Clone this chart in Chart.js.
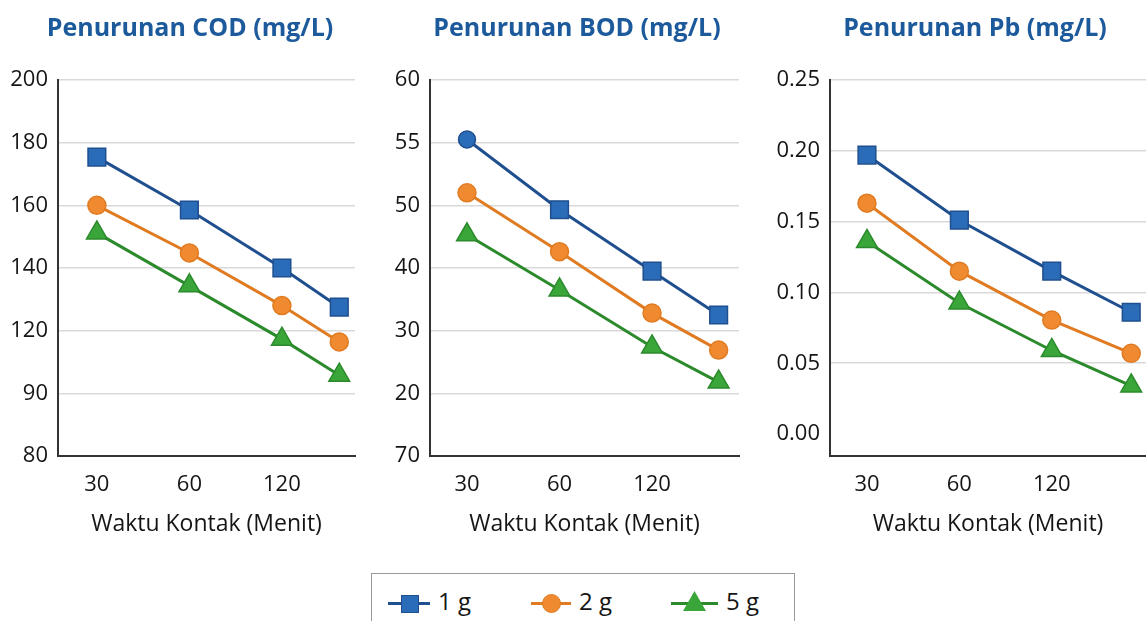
<!DOCTYPE html>
<html>
<head>
<meta charset="utf-8">
<script src="https://cdn.jsdelivr.net/npm/chart.js@4.4.1/dist/chart.umd.min.js"></script>
<style>
  body { margin: 0; background: #fff; width: 1146px; height: 621px; overflow: hidden; position: relative; font-family: 'Open Sans', sans-serif; }
  .panel { position: absolute; top: 0; height: 550px; }
  #legend { position: absolute; left: 371px; top: 573px; width: 424px; height: 60px; border: 1px solid #999; box-sizing: border-box; }
  .item { position: absolute; top: 0; height: 50px; }
  .ln { position: absolute; top: 28px; height: 3px; width: 44px; left: 0; }
  .mk { position: absolute; }
  .txt { position: absolute; top: 10px; font-size: 24px; color: #151515; white-space: nowrap; }
</style>
</head>
<body>
<div class="panel" style="left:0;width:380px"><canvas id="cod"></canvas></div>
<div class="panel" style="left:390px;width:374px"><canvas id="bod"></canvas></div>
<div class="panel" style="left:770px;width:410px"><canvas id="pb"></canvas></div>
<div id="legend"></div>
<script>
// kategori waktu kontak (menit); titik ke-4 tanpa label
const categories = ['30', '60', '120', ''];
const codX = [0, 1, 2, 2.62];
const bodX = [0, 1, 2, 2.72];
const pbX = [0, 1, 2, 2.86];

const seriesNames = ['1 g', '2 g', '5 g'];

// COD
const cod1g = [175.4, 158.5, 140, 127.5];
const cod2g = [160, 144.8, 128, 116.4];
const cod5g = [151.2, 134.3, 117.3, 105.8];
const codTicks = [80, 100, 120, 140, 160, 180, 200];
const codTickLabels = ['80', '90', '120', '140', '160', '180', '200'];

// BOD
const bod1g = [60.5, 49.3, 39.5, 32.5];
const bod2g = [52, 42.6, 32.8, 26.9];
const bod5g = [45.3, 36.5, 27.4, 21.8];
const bodTicks = [10, 20, 30, 40, 50, 60, 70];
const bodTickLabels = ['70', '20', '30', '40', '50', '55', '60'];

// Pb
const pb1g = [0.197, 0.151, 0.115, 0.086];
const pb2g = [0.163, 0.115, 0.0805, 0.057];
const pb5g = [0.136, 0.0925, 0.059, 0.034];
const pbTicks = [0, 0.05, 0.10, 0.15, 0.20, 0.25];
const pbTickLabels = ['0.00', '0.05', '0.10', '0.15', '0.20', '0.25'];

const FONT = "'Open Sans', sans-serif";
const TEXT = '#151515';
const styles = [
  { line: '#1f4f8f', fill: '#2a6cb8', point: 'rect', r: 12.5 },
  { line: '#e07b22', fill: '#ef8a30', point: 'circle', r: 9 },
  { line: '#2b8a2b', fill: '#3aa63a', point: 'triangle', r: 12 }
];

function pts(xs, ys) {
  return xs.map((x, i) => ({ x: x, y: ys[i] }));
}

function makeChart(id, o) {
  new Chart(document.getElementById(id), {
    type: 'line',
    data: {
      datasets: o.series.map((ys, i) => ({
        label: seriesNames[i],
        data: pts(o.xs, ys),
        borderColor: styles[i].line,
        backgroundColor: styles[i].fill,
        pointBackgroundColor: styles[i].fill,
        pointBorderColor: styles[i].line,
        pointBorderWidth: 1.5,
        pointStyle: (o.pointStyles && o.pointStyles[i]) || styles[i].point,
        pointRadius: (o.pointRadii && o.pointRadii[i]) || styles[i].r,
        borderWidth: 3,
        tension: 0,
        clip: false
      }))
    },
    options: {
      responsive: true,
      maintainAspectRatio: false,
      animation: false,
      layout: { padding: 0 },
      plugins: {
        legend: { display: false },
        tooltip: { enabled: false },
        title: {
          display: true,
          text: o.title,
          color: '#1c5a9c',
          font: { family: FONT, size: 25, weight: 'bold' },
          padding: { top: 14, bottom: 36 }
        }
      },
      scales: {
        x: {
          type: 'linear',
          min: o.xMin,
          max: o.xMax,
          afterBuildTicks: s => { s.ticks = [0, 1, 2].map(v => ({ value: v })); },
          afterFit: s => { s.height = 94; },
          grid: { display: false, drawTicks: false },
          border: { display: true, color: '#333', width: 2 },
          ticks: {
            padding: 16,
            color: TEXT,
            font: { family: FONT, size: 22 },
            callback: (v, i) => categories[i]
          },
          title: {
            display: true,
            text: 'Waktu Kontak (Menit)',
            color: TEXT,
            font: { family: FONT, size: 23 },
            padding: { top: 0, bottom: 12 }
          }
        },
        y: {
          type: 'linear',
          min: o.yMin,
          max: o.yMax,
          afterBuildTicks: s => { s.ticks = o.yTicks.map(v => ({ value: v })); },
          afterFit: s => { s.width = o.yWidth; },
          grid: {
            drawTicks: false,
            lineWidth: 1.5,
            color: c => (o.hideZero && c.tick && c.tick.value === 0) ? 'rgba(0,0,0,0)' : '#d9d9d9'
          },
          border: { display: true, color: '#333', width: 2 },
          ticks: {
            padding: 10,
            color: TEXT,
            font: { family: FONT, size: 22 },
            callback: (v, i) => o.yLabels[i]
          }
        },
        // sumbu kosong di kanan, hanya untuk menyisakan ruang
        spacer: {
          type: 'linear',
          position: 'right',
          afterFit: s => { s.width = o.rightGap; },
          grid: { display: false, drawTicks: false },
          border: { display: false },
          ticks: { display: false }
        }
      }
    }
  });
}

makeChart('cod', {
  title: 'Penurunan COD (mg/L)',
  xs: codX, series: [cod1g, cod2g, cod5g],
  xMin: -0.42, xMax: 2.79,
  yMin: 80, yMax: 200, yTicks: codTicks, yLabels: codTickLabels,
  yWidth: 58, rightGap: 25
});

makeChart('bod', {
  title: 'Penurunan BOD (mg/L)',
  xs: bodX, series: [bod1g, bod2g, bod5g],
  xMin: -0.40, xMax: 2.94,
  yMin: 10, yMax: 70, yTicks: bodTicks, yLabels: bodTickLabels,
  yWidth: 40, rightGap: 25,
  pointStyles: [['circle', 'rect', 'rect', 'rect']],
  pointRadii: [[8.5, 12.5, 12.5, 12.5]]
});

makeChart('pb', {
  title: 'Penurunan Pb (mg/L)',
  xs: pbX, series: [pb1g, pb2g, pb5g],
  xMin: -0.40, xMax: 3.02,
  yMin: -0.0155, yMax: 0.25, yTicks: pbTicks, yLabels: pbTickLabels,
  yWidth: 60, rightGap: 34, hideZero: true
});

// legenda bersama
const legendPos = [16, 159, 299];
const legend = document.getElementById('legend');
seriesNames.forEach((name, i) => {
  const st = styles[i];
  const item = document.createElement('div');
  item.className = 'item';
  item.style.left = legendPos[i] + 'px';
  let mk;
  if (st.point === 'rect') {
    mk = '<div class="mk" style="left:13px;top:21px;width:18px;height:18px;background:' + st.fill + ';border:1px solid ' + st.line + ';box-sizing:border-box"></div>';
  } else if (st.point === 'circle') {
    mk = '<div class="mk" style="left:11px;top:20px;width:19px;height:19px;border-radius:50%;background:' + st.fill + ';border:1px solid ' + st.line + ';box-sizing:border-box"></div>';
  } else {
    mk = '<div class="mk" style="left:12px;top:17px;width:23px;height:20px;background:' + st.fill + ';clip-path:polygon(50% 0,100% 100%,0 100%)"></div>';
  }
  const lnW = st.point === 'triangle' ? 47 : (st.point === 'circle' ? 40 : 42);
  item.innerHTML = '<div class="ln" style="width:' + lnW + 'px;background:' + st.line + '"></div>' + mk +
    '<div class="txt" style="left:' + (lnW + 8) + 'px">' + name + '</div>';
  legend.appendChild(item);
});
</script>
</body>
</html>
